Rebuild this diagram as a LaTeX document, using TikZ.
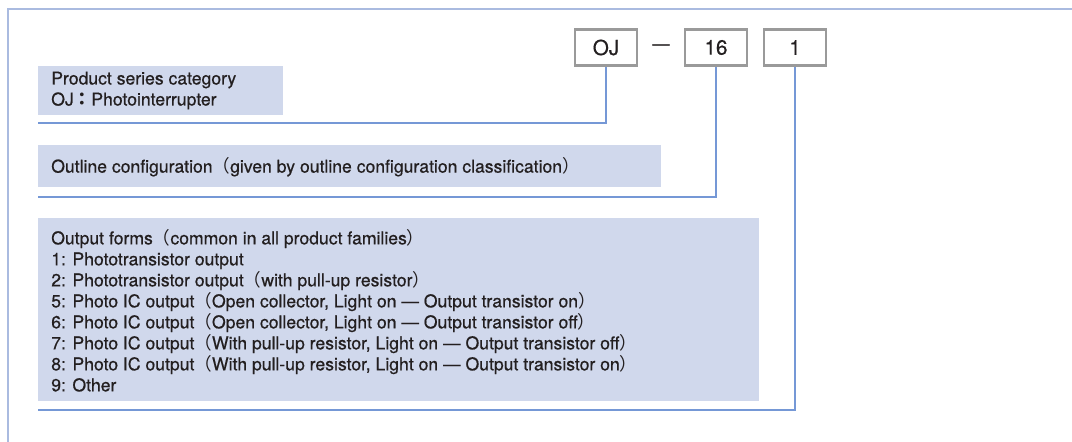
\documentclass[tikz,border=0pt]{standalone}
\usepackage{fontspec}
\setmainfont{TeX Gyre Heros}[FakeBold=0.6]
\newfontfamily\cjk{Noto Sans CJK JP}
\newcommand{\lpar}{{\cjk （}}
\newcommand{\rpar}{{\cjk ）}}
\newcommand{\fcolon}{{\cjk\bfseries ：}}
\definecolor{fillblue}{HTML}{D0D8EC}
\definecolor{lineblue}{HTML}{7598D6}
\definecolor{frameblue}{HTML}{AABBE0}
\definecolor{boxgrey}{HTML}{9A9A9A}
\definecolor{txt}{HTML}{231F20}
\begin{document}
\begin{tikzpicture}[x=0.75pt,y=-0.75pt,
  catbox/.style={fill=fillblue, draw=none, inner sep=0pt},
  codebox/.style={draw=boxgrey, line width=2.2pt, fill=white, minimum width=46.5pt, minimum height=27.5pt, inner sep=0pt, font=\fontsize{15.5pt}{17pt}\selectfont, text=txt},
  conn/.style={draw=lineblue, line width=1.1pt},
  frame/.style={draw=frameblue, line width=2pt},
  lbl/.style={anchor=west, inner sep=0pt, text=txt, font=\fontsize{13.2pt}{15.75pt}\selectfont, align=left}
]
\useasboundingbox (0,0) rectangle (1072,442);
\draw[frame] (8,442) -- (8,9) -- (1072,9);
% code boxes
\node[codebox] (oj) at (606,47.5) {OJ};
\node[codebox] (n16) at (716,47.5) {16};
\node[codebox] (n1) at (795,47.5) {1};
\node[inner sep=0pt, text=txt] (dash) at (661,47) {\fontsize{13pt}{14pt}\selectfont —};
% category boxes
\fill[fillblue] (38,66) rectangle (283,115);
\node[lbl] (t1) at (51,90.5) {Product series category\\OJ\fcolon Photointerrupter};
\fill[fillblue] (38,145) rectangle (661,187);
\node[lbl] (t2) at (51,167) {Outline configuration\lpar given by outline configuration classification\rpar};
\fill[fillblue] (38,218) rectangle (759,401);
\node[lbl, anchor=north west] (t3) at (51,229) {Output forms\lpar common in all product families\rpar\\
1: Phototransistor output\\
2: Phototransistor output\lpar with pull-up resistor\rpar\\
5: Photo IC output\lpar Open collector, Light on — Output transistor on\rpar\\
6: Photo IC output\lpar Open collector, Light on — Output transistor off\rpar\\
7: Photo IC output\lpar With pull-up resistor, Light on — Output transistor off\rpar\\
8: Photo IC output\lpar With pull-up resistor, Light on — Output transistor on\rpar\\
9: Other};
% connectors
\coordinate (c1) at (38,123);
\coordinate (c2) at (38,197);
\coordinate (c3) at (38,410);
\draw[conn] (c1) -| (oj.south);
\draw[conn] (c2) -| (n16.south);
\draw[conn] (c3) -| (n1.south);
\end{tikzpicture}
\end{document}
